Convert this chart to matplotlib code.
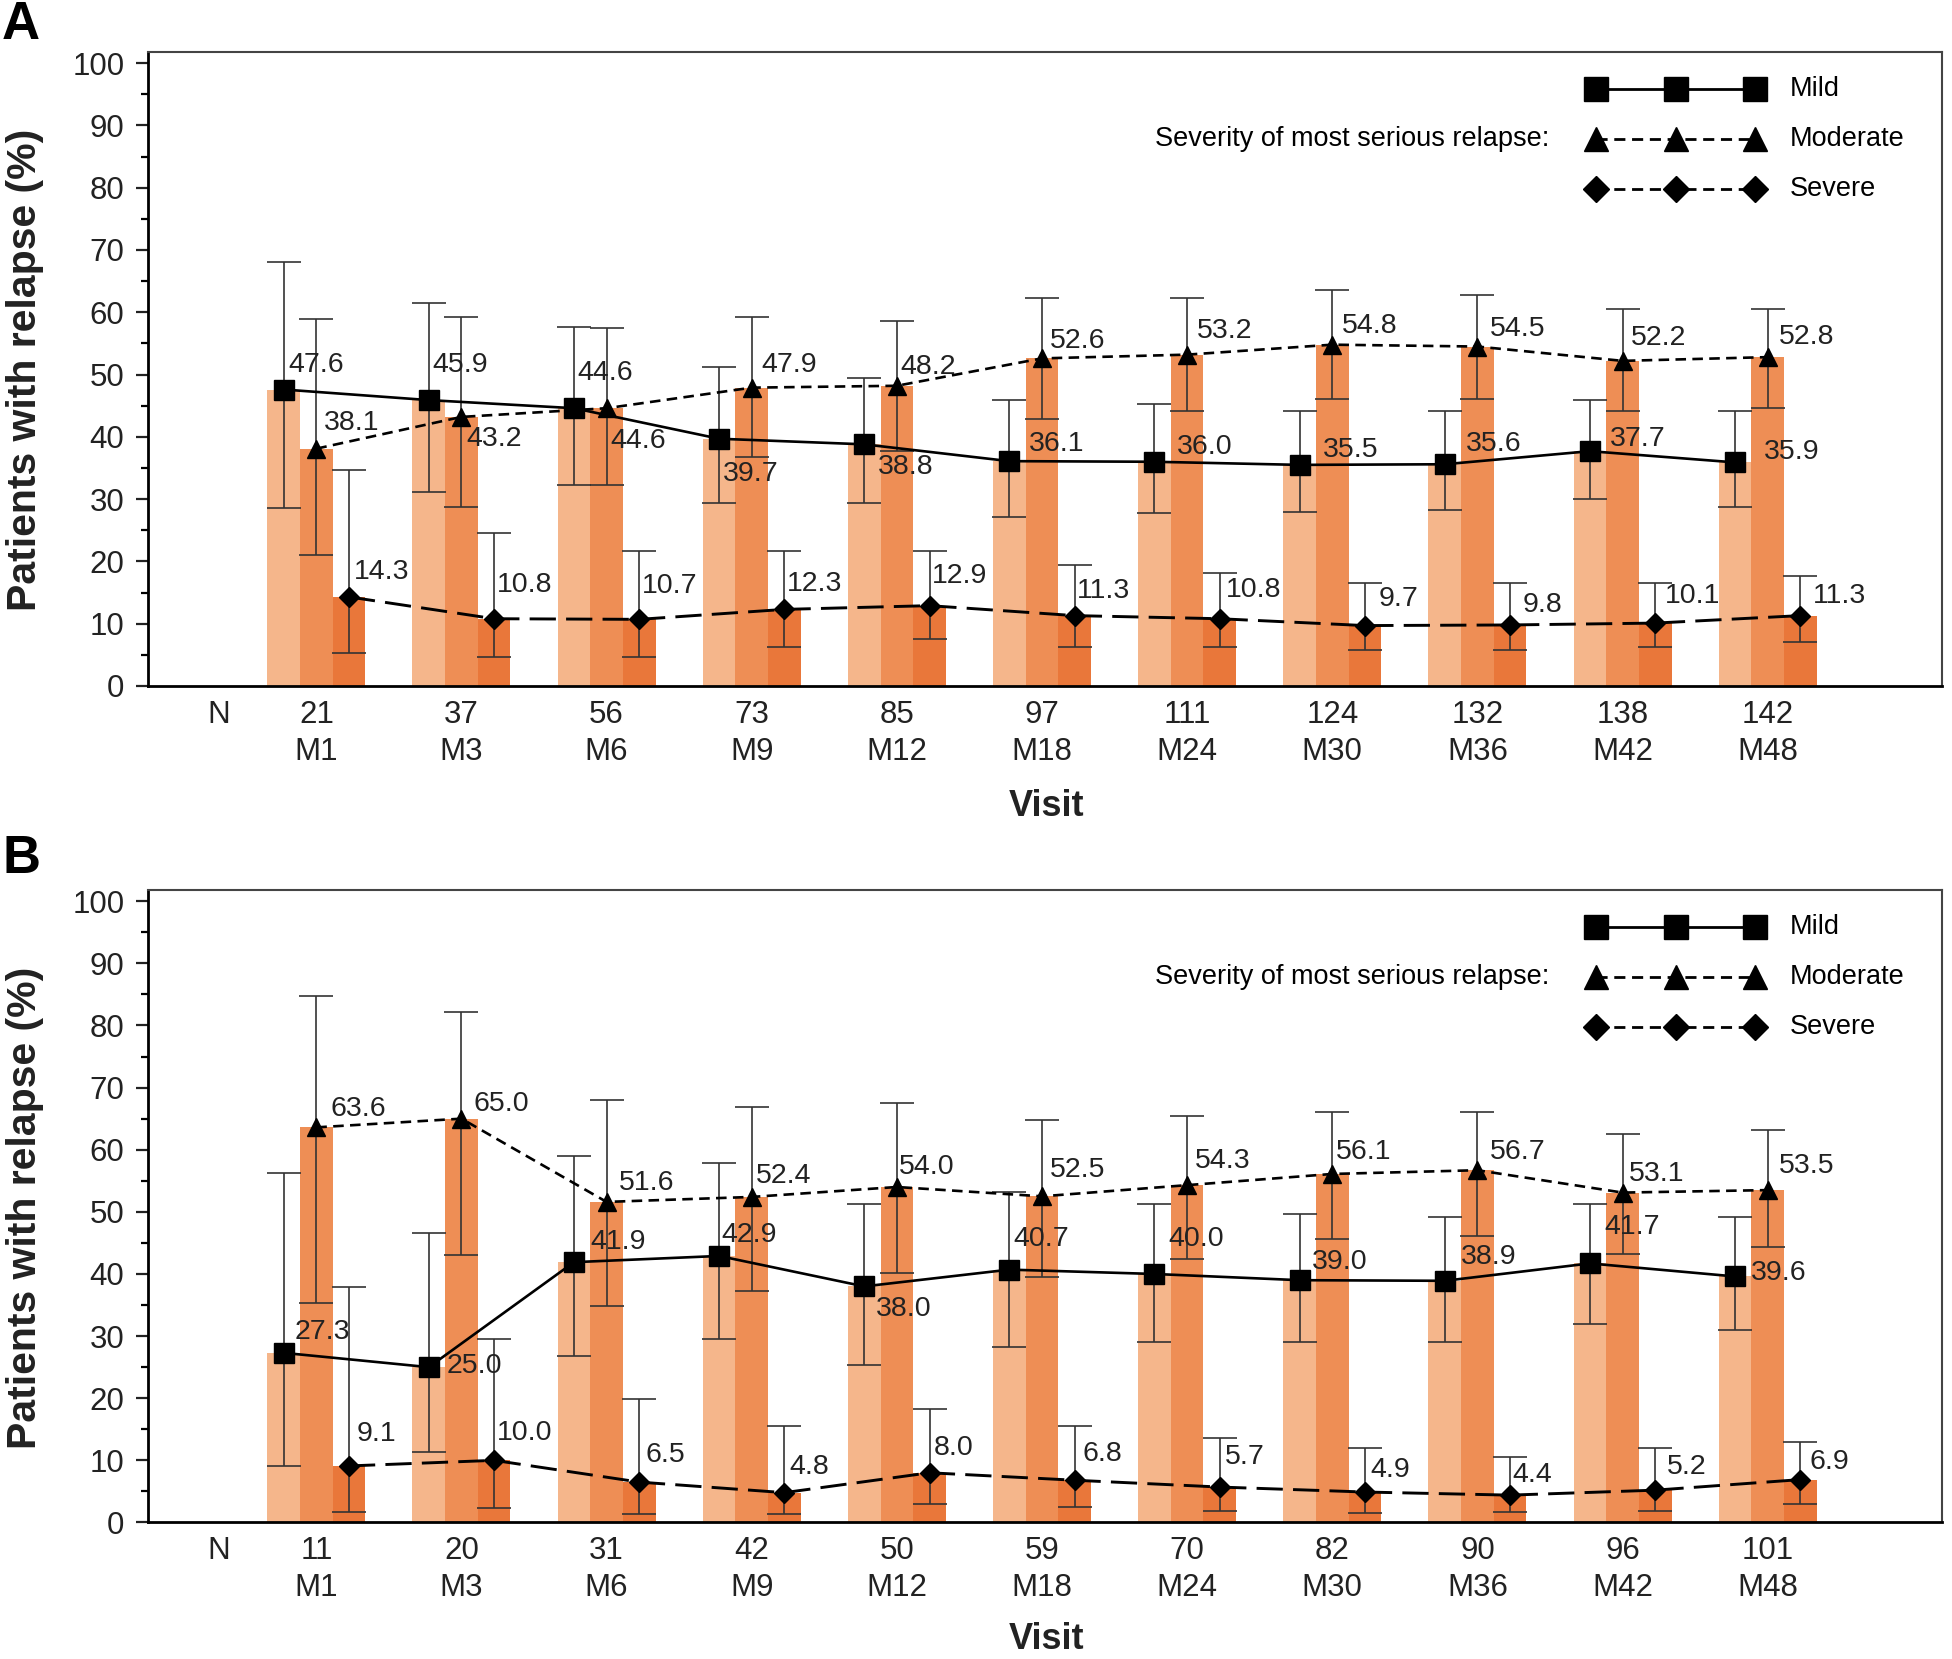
import matplotlib
matplotlib.use('Agg')
import matplotlib.pyplot as plt
import numpy as np

plt.rcParams['font.family'] = ['Liberation Sans', 'DejaVu Sans']

visits = ['M1', 'M3', 'M6', 'M9', 'M12', 'M18', 'M24', 'M30', 'M36', 'M42', 'M48']

# panel A
n_a = [21, 37, 56, 73, 85, 97, 111, 124, 132, 138, 142]
mild_a = [47.6, 45.9, 44.6, 39.7, 38.8, 36.1, 36.0, 35.5, 35.6, 37.7, 35.9]
mod_a = [38.1, 43.2, 44.6, 47.9, 48.2, 52.6, 53.2, 54.8, 54.5, 52.2, 52.8]
sev_a = [14.3, 10.8, 10.7, 12.3, 12.9, 11.3, 10.8, 9.7, 9.8, 10.1, 11.3]
mild_a_lo = [28.5, 31.2, 32.2, 29.3, 29.3, 27.1, 27.8, 27.9, 28.3, 30.1, 28.7]
mild_a_hi = [68.1, 61.5, 57.6, 51.2, 49.4, 45.9, 45.2, 44.1, 44.1, 45.9, 44.1]
mod_a_lo = [21.0, 28.7, 32.2, 36.8, 37.8, 42.8, 44.1, 46.0, 46.0, 44.1, 44.6]
mod_a_hi = [59.0, 59.3, 57.4, 59.2, 58.6, 62.3, 62.3, 63.5, 62.8, 60.6, 60.6]
sev_a_lo = [5.3, 4.7, 4.6, 6.3, 7.6, 6.3, 6.3, 5.7, 5.7, 6.3, 7.0]
sev_a_hi = [34.7, 24.6, 21.6, 21.6, 21.6, 19.5, 18.1, 16.5, 16.5, 16.5, 17.6]

# panel B
n_b = [11, 20, 31, 42, 50, 59, 70, 82, 90, 96, 101]
mild_b = [27.3, 25.0, 41.9, 42.9, 38.0, 40.7, 40.0, 39.0, 38.9, 41.7, 39.6]
mod_b = [63.6, 65.0, 51.6, 52.4, 54.0, 52.5, 54.3, 56.1, 56.7, 53.1, 53.5]
sev_b = [9.1, 10.0, 6.5, 4.8, 8.0, 6.8, 5.7, 4.9, 4.4, 5.2, 6.9]
mild_b_lo = [9.1, 11.3, 26.8, 29.6, 25.4, 28.3, 29.0, 29.0, 29.0, 32.0, 31.0]
mild_b_hi = [56.2, 46.6, 59.0, 57.8, 51.3, 53.2, 51.3, 49.6, 49.2, 51.3, 49.2]
mod_b_lo = [35.3, 43.1, 34.9, 37.2, 40.1, 39.5, 42.4, 45.7, 46.1, 43.2, 44.4]
mod_b_hi = [84.7, 82.2, 68.0, 66.8, 67.5, 64.8, 65.4, 66.1, 66.0, 62.5, 63.2]
sev_b_lo = [1.7, 2.4, 1.4, 1.4, 2.9, 2.5, 1.8, 1.5, 1.7, 1.9, 2.9]
sev_b_hi = [37.9, 29.6, 19.9, 15.6, 18.3, 15.6, 13.6, 12.0, 10.6, 12.0, 12.9]

# label placement (offsets in reference pixels: right, up)
off_mild_a = [(4, 20), (3, 28), (3, 28), (3, -28), (11, -18), (16, 14), (18, 12), (19, 12), (17, 16), (16, 10), (23, 8)]
off_mod_a = [(6, 21), (4, -18), (3, -26), (8, 18), (3, 15), (6, 14), (8, 19), (8, 15), (10, 14), (7, 18), (9, 16)]
off_sev_a = [(4, 20), (2, 27), (2, 27), (2, 20), (2, 24), (2, 20), (5, 23), (11, 21), (10, 16), (8, 22), (10, 16)]
off_mild_b = [(9, 17), (14, 1), (13, 16), (2, 17), (9, -18), (3, 25), (11, 28), (10, 15), (13, 19), (12, 29), (13, 3)]
off_mod_b = [(11, 15), (10, 12), (10, 15), (3, 17), (2, 16), (6, 21), (6, 19), (3, 18), (10, 15), (5, 15), (9, 19)]
off_sev_b = [(6, 26), (2, 22), (5, 22), (4, 21), (3, 20), (6, 21), (4, 24), (4, 18), (2, 16), (9, 19), (7, 14)]

light = '#F5B68B'
medium = '#EE8E55'
dark = '#E9773A'
ebar = '#333333'
w = 0.225
px = 0.896  # reference px -> points


def panel(ax, n, mild, mod, sev, mlo, mhi, olo, ohi, slo, shi, offs):
    x = np.arange(len(visits))
    mild = np.array(mild); mod = np.array(mod); sev = np.array(sev)
    ax.bar(x - w, mild, w, color=light, zorder=1)
    ax.bar(x, mod, w, color=medium, zorder=1)
    ax.bar(x + w, sev, w, color=dark, zorder=1)
    for xs, v, lo, hi in [(x - w, mild, mlo, mhi), (x, mod, olo, ohi), (x + w, sev, slo, shi)]:
        err = [v - np.array(lo), np.array(hi) - v]
        ax.errorbar(xs, v, yerr=err, fmt='none', ecolor=ebar, elinewidth=1.2,
                    capsize=12, capthick=1.2, zorder=2)
    ax.plot(x - w, mild, color='black', lw=1.9, marker='s', markersize=15, zorder=3)
    ax.plot(x, mod, color='black', lw=1.9, dashes=(4, 2.4), marker='^', markersize=13, zorder=3)
    ax.plot(x + w, sev, color='black', lw=2.1, dashes=(9, 3.5), marker='D', markersize=10, zorder=3)
    for xs, v, off in [(x - w, mild, offs[0]), (x, mod, offs[1]), (x + w, sev, offs[2])]:
        for i in range(len(v)):
            ax.annotate('%.1f' % v[i], (xs[i], v[i]), xytext=(off[i][0] * px, off[i][1] * px),
                        textcoords='offset points', ha='left', va='center',
                        fontsize=20.5, color='#222222', zorder=4)

    ax.set_xlim(-1.16, 11.2)
    ax.set_ylim(0, 101.8)
    ax.set_yticks(np.arange(0, 101, 10))
    ax.set_yticks(np.arange(0, 101, 5), minor=True)
    ticks = [-0.67] + list(x)
    labels = ['N\n'] + ['%d\n%s' % (n[i], visits[i]) for i in range(len(visits))]
    ax.set_xticks(ticks)
    ax.set_xticklabels(labels, linespacing=1.3)
    ax.tick_params(axis='x', length=0, pad=10, labelsize=22.5, colors='#222222')
    ax.tick_params(axis='y', which='major', length=9, width=1.6, pad=8, labelsize=22.5, colors='#222222')
    ax.tick_params(axis='y', which='minor', length=5, width=1.6)
    for s in ['left', 'bottom']:
        ax.spines[s].set_linewidth(2)
        ax.spines[s].set_color('black')
    for s in ['top', 'right']:
        ax.spines[s].set_linewidth(1.5)
        ax.spines[s].set_color('#444444')

    # legend drawn by hand
    lx = [0.807, 0.852, 0.896]
    rows = [(0.942, 's', None, 17, 'Mild'), (0.862, '^', (4, 2.4), 17, 'Moderate'),
            (0.784, 'D', (4, 2.4), 13, 'Severe')]
    for ry, mk, ds, ms, lab in rows:
        if ds is None:
            ax.plot(lx, [ry] * 3, transform=ax.transAxes, color='black', lw=2, marker=mk,
                    markersize=ms, clip_on=False, zorder=5)
        else:
            ax.plot(lx, [ry] * 3, transform=ax.transAxes, color='black', lw=2, dashes=ds,
                    marker=mk, markersize=ms, clip_on=False, zorder=5)
        ax.text(0.915, ry, lab, transform=ax.transAxes, ha='left', va='center', fontsize=19.5)
    ax.text(0.781, 0.862, 'Severity of most serious relapse:', transform=ax.transAxes,
            ha='right', va='center', fontsize=19.5)


fig = plt.figure(figsize=(19.52, 16.59), dpi=100)
ax1 = fig.add_axes([0.0758, 0.5865, 0.919, 0.3822])
ax2 = fig.add_axes([0.0758, 0.0823, 0.919, 0.3812])

panel(ax1, n_a, mild_a, mod_a, sev_a, mild_a_lo, mild_a_hi, mod_a_lo, mod_a_hi,
      sev_a_lo, sev_a_hi, (off_mild_a, off_mod_a, off_sev_a))
panel(ax2, n_b, mild_b, mod_b, sev_b, mild_b_lo, mild_b_hi, mod_b_lo, mod_b_hi,
      sev_b_lo, sev_b_hi, (off_mild_b, off_mod_b, off_sev_b))

fig.text(0.0128, 0.777, 'Patients with relapse (%)', rotation=90, ha='center', va='center',
         fontsize=29.5, fontweight='bold', color='#222222')
fig.text(0.0128, 0.272, 'Patients with relapse (%)', rotation=90, ha='center', va='center',
         fontsize=29.5, fontweight='bold', color='#222222')
fig.text(0.536, 0.5136, 'Visit', ha='center', va='center', fontsize=26, fontweight='bold', color='#222222')
fig.text(0.536, 0.001, 'Visit', ha='center', va='bottom', fontsize=26, fontweight='bold', color='#222222')
fig.text(0.0108, 0.985, 'A', ha='center', va='center', fontsize=38, fontweight='bold')
fig.text(0.0108, 0.482, 'B', ha='center', va='center', fontsize=38, fontweight='bold')

fig.savefig('out.png', dpi=100)
